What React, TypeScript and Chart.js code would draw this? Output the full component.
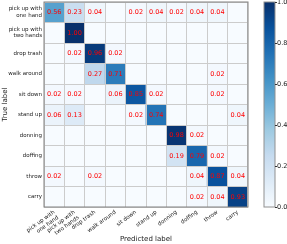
import React, { useEffect, useRef } from 'react';
import { Chart, registerables } from 'chart.js';

Chart.register(...registerables);

const trueLabels: (string | string[])[] = [
  ['pick up with', 'one hand'],
  ['pick up with', 'two hands'],
  'drop trash',
  'walk around',
  'sit down',
  'stand up',
  'donning',
  'doffing',
  'throw',
  'carry',
];
const predLabels: (string | string[])[] = [
  ['pick up with', 'one hand'],
  ['pick up with', 'two hands'],
  'drop trash',
  'walk around',
  'sit down',
  'stand up',
  'donning',
  'doffing',
  'throw',
  'carry',
];

const rowPickOne = [0.56, 0.23, 0.04, 0, 0.02, 0.04, 0.02, 0.04, 0.04, 0];
const rowPickTwo = [0, 1.0, 0, 0, 0, 0, 0, 0, 0, 0];
const rowDrop = [0, 0.02, 0.96, 0.02, 0, 0, 0, 0, 0, 0];
const rowWalk = [0, 0, 0.27, 0.71, 0, 0, 0, 0, 0.02, 0];
const rowSit = [0.02, 0.02, 0, 0.06, 0.85, 0.02, 0, 0, 0.02, 0];
const rowStand = [0.06, 0.13, 0, 0, 0.02, 0.74, 0, 0, 0, 0.04];
const rowDonning = [0, 0, 0, 0, 0, 0, 0.98, 0.02, 0, 0];
const rowDoffing = [0, 0, 0, 0, 0, 0, 0.19, 0.79, 0.02, 0];
const rowThrow = [0.02, 0, 0.02, 0, 0, 0, 0, 0.04, 0.87, 0.04];
const rowCarry = [0, 0, 0, 0, 0, 0, 0, 0.02, 0.04, 0.93];

const matrix = [rowPickOne, rowPickTwo, rowDrop, rowWalk, rowSit, rowStand, rowDonning, rowDoffing, rowThrow, rowCarry];

const colorbarTicks = [0, 0.2, 0.4, 0.6, 0.8, 1.0];
const bluesStops = ['#f7fbff', '#deebf7', '#c6dbef', '#9ecae1', '#6baed6', '#4292c6', '#2171b5', '#08519c', '#08306b'];

const FONT = 'DejaVu Sans';

function hexToRgb(h: string) {
  return [parseInt(h.slice(1, 3), 16), parseInt(h.slice(3, 5), 16), parseInt(h.slice(5, 7), 16)];
}

function blues(v: number) {
  const t = Math.max(0, Math.min(1, v)) * (bluesStops.length - 1);
  const i = Math.min(Math.floor(t), bluesStops.length - 2);
  const f = t - i;
  const a = hexToRgb(bluesStops[i]);
  const b = hexToRgb(bluesStops[i + 1]);
  const c = a.map((x, k) => Math.round(x + (b[k] - x) * f));
  return `rgb(${c[0]},${c[1]},${c[2]})`;
}

const cellText = {
  id: 'cellText',
  afterDraw(chart: any) {
    const ctx = chart.ctx;
    ctx.save();
    ctx.font = `6.5px "${FONT}"`;
    ctx.fillStyle = '#ff0000';
    ctx.textAlign = 'center';
    ctx.textBaseline = 'middle';
    matrix.forEach((row, i) => {
      const meta = chart.getDatasetMeta(i);
      row.forEach((v, j) => {
        if (v > 0) {
          const p = meta.data[j].getCenterPoint();
          ctx.fillText(v.toFixed(2), p.x, p.y + 0.5);
        }
      });
    });
    ctx.restore();
  },
};

const frame = {
  id: 'frame',
  afterDraw(chart: any) {
    const { ctx, chartArea } = chart;
    ctx.save();
    ctx.strokeStyle = '#808080';
    ctx.lineWidth = 1;
    ctx.strokeRect(chartArea.left, chartArea.top, chartArea.right - chartArea.left, chartArea.bottom - chartArea.top);
    ctx.restore();
  },
};

const colorbar = {
  id: 'colorbar',
  afterDraw(chart: any) {
    const s = chart.scales.cb;
    const ctx = chart.ctx;
    const x0 = s.left + 16;
    const w = 11;
    const yTop = s.getPixelForValue(1);
    const yBot = s.getPixelForValue(0);
    ctx.save();
    const g = ctx.createLinearGradient(0, yBot, 0, yTop);
    bluesStops.forEach((c, k) => g.addColorStop(k / (bluesStops.length - 1), c));
    ctx.fillStyle = g;
    ctx.fillRect(x0, yTop, w, yBot - yTop);
    ctx.strokeStyle = '#909090';
    ctx.lineWidth = 1;
    ctx.strokeRect(x0, yTop, w, yBot - yTop);
    ctx.strokeStyle = '#333';
    colorbarTicks.forEach((v) => {
      const y = Math.round(s.getPixelForValue(v)) + 0.5;
      ctx.beginPath();
      ctx.moveTo(x0 + w, y);
      ctx.lineTo(x0 + w + 2, y);
      ctx.stroke();
    });
    ctx.restore();
  },
};

export default function App() {
  const ref = useRef<HTMLCanvasElement>(null);
  useEffect(() => {
    const canvas = ref.current!;
    const datasets = matrix.map((row, i) => ({
      label: String(trueLabels[i]),
      data: row.map(() => [i - 0.5, i + 0.5]),
      backgroundColor: row.map((v) => blues(v)),
      borderWidth: 0,
      grouped: false,
      barPercentage: 1,
      categoryPercentage: 1,
      yAxisID: 'y',
    }));
    const gridColor = '#cccccc';
    const chart = new Chart(canvas, {
      type: 'bar',
      data: { labels: predLabels as any, datasets: datasets as any },
      plugins: [cellText, frame, colorbar],
      options: {
        animation: false,
        responsive: false,
        devicePixelRatio: 1,
        events: [],
        layout: { padding: { top: 2, left: 0, right: 0, bottom: 0 } },
        plugins: { legend: { display: false }, tooltip: { enabled: false } },
        scales: {
          x: {
            type: 'category',
            offset: true,
            grid: { offset: true, color: gridColor, z: 1, drawTicks: false, lineWidth: 1 },
            border: { display: false },
            ticks: {
              autoSkip: false,
              minRotation: 36,
              maxRotation: 36,
              padding: 2,
              font: { family: FONT, size: 5.5 },
              color: '#222',
            },
            title: {
              display: true,
              text: 'Predicted label',
              font: { family: FONT, size: 7 },
              color: '#222',
              padding: { top: 0, bottom: 1 },
            },
            afterFit: (s: any) => {
              s.height = 37;
              s.paddingLeft = 0;
              s.paddingRight = 0;
            },
          },
          y: {
            type: 'linear',
            min: -0.5,
            max: 9.5,
            reverse: true,
            afterBuildTicks: (s: any) => {
              s.ticks = trueLabels.map((_, i) => ({ value: i }));
            },
            grid: { offset: true, color: gridColor, z: 1, drawTicks: false, lineWidth: 1 },
            border: { display: false },
            ticks: {
              autoSkip: false,
              padding: 2,
              callback: (v: any) => trueLabels[v as number] as any,
              font: { family: FONT, size: 5.5 },
              color: '#222',
            },
            title: {
              display: true,
              text: 'True label',
              font: { family: FONT, size: 7 },
              color: '#222',
              padding: { top: 1, bottom: 0 },
            },
            afterFit: (s: any) => {
              s.width = 44;
              s.paddingTop = 0;
              s.paddingBottom = 0;
            },
          },
          cb: {
            type: 'linear',
            position: 'right',
            min: 0,
            max: 1,
            afterBuildTicks: (s: any) => {
              s.ticks = colorbarTicks.map((v) => ({ value: v }));
            },
            grid: { display: false, drawTicks: false },
            border: { display: false },
            ticks: {
              padding: 29,
              callback: (v: any) => Number(v).toFixed(1),
              font: { family: FONT, size: 6.5 },
              color: '#222',
            },
            afterFit: (s: any) => {
              s.width = 39;
              s.paddingTop = 0;
              s.paddingBottom = 0;
            },
          },
        } as any,
      },
    });
    return () => chart.destroy();
  }, []);
  return (
    <div style={{ position: 'fixed', left: 0, top: 0, width: 287, height: 244, background: '#fff' }}>
      <canvas ref={ref} width={287} height={244} style={{ width: 287, height: 244, display: 'block' }} />
    </div>
  );
}
